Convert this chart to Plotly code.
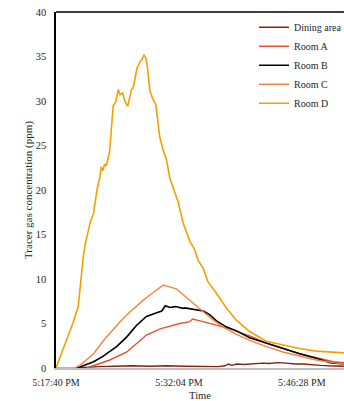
import plotly.graph_objects as go

# Time in minutes after 5:17:40 PM
tick_minutes = [0, 14.4, 28.8]
tick_labels = ["5:17:40 PM", "5:32:04 PM", "5:46:28 PM"]

dining_t = [2.2, 3.5, 5, 7, 9, 11, 13, 15, 17, 19, 19.8, 20.2, 20.6, 21.2, 22, 23, 24.2, 25, 26, 27, 28, 29, 30, 31, 32, 33.8]
dining_v = [0, 0.1, 0.15, 0.2, 0.25, 0.2, 0.25, 0.2, 0.2, 0.15, 0.25, 0.45, 0.3, 0.45, 0.4, 0.5, 0.55, 0.5, 0.6, 0.55, 0.45, 0.45, 0.35, 0.3, 0.25, 0.2]

roomA_t = [3.6, 5.15, 6.3, 8.3, 9.45, 10.6, 12.2, 13.35, 14.5, 15.7, 16.0, 16.9, 18.05, 19.2, 20.4, 21.5, 22.7, 24.65, 26.6, 28.55, 30.5, 32.5, 33.8]
roomA_v = [0, 0.5, 0.9, 1.8, 2.8, 3.7, 4.4, 4.7, 5.0, 5.2, 5.5, 5.3, 5.0, 4.7, 4.4, 4.0, 3.6, 2.8, 2.2, 1.6, 1.15, 0.7, 0.6]

roomB_t = [2.4, 2.8, 4.4, 5.5, 7.1, 8.3, 9.45, 10.6, 11.8, 12.4, 12.8, 13.35, 14.0, 14.9, 15.1, 16.1, 17.25, 18.0, 18.8, 20.0, 21.1, 22.7, 24.65, 26.6, 28.55, 30.5, 32.1, 33.8]
roomB_v = [0, 0.1, 0.7, 1.3, 2.4, 3.5, 4.8, 5.8, 6.2, 6.4, 7.0, 6.8, 6.9, 6.7, 6.75, 6.6, 6.4, 6.0, 5.3, 4.6, 4.2, 3.4, 2.8, 2.2, 1.6, 1.1, 0.6, 0.45]

roomC_t = [0, 2.2, 2.8, 4.4, 5.5, 6.5, 7.5, 8.65, 9.2, 10.2, 11.0, 11.8, 12.55, 13.0, 13.4, 14.1, 14.7, 15.7, 16.65, 17.6, 18.4, 19.6, 21.1, 22.7, 24.65, 26.6, 28.55, 30.5, 32.5, 33.8]
roomC_v = [0, 0, 0.3, 1.6, 3.0, 4.1, 5.2, 6.3, 6.8, 7.6, 8.2, 8.8, 9.3, 9.2, 9.1, 8.9, 8.4, 7.6, 6.8, 6.1, 5.4, 4.6, 3.8, 3.1, 2.4, 1.8, 1.35, 0.9, 0.6, 0.45]

roomD_t = [0, 2.0, 2.6, 3.0, 3.2, 3.4, 4.0, 4.4, 4.8, 5.15, 5.3, 5.5, 5.7, 5.85, 6.1, 6.3, 6.55, 6.7, 7.0, 7.3, 7.5, 7.8, 8.05, 8.4, 8.85, 9.05, 9.25, 9.5, 9.7, 9.9, 10.05, 10.3, 10.5, 10.7, 11.0, 11.35, 11.7, 12.15, 12.55, 12.95, 13.35, 13.9, 14.3, 14.9, 15.3, 15.7, 16.25, 16.65, 17.25, 17.8, 18.8, 20.0, 21.1, 22.7, 24.65, 26.6, 28.55, 30.5, 33.6, 33.8]
roomD_v = [0, 5.1, 6.9, 11.0, 12.5, 13.8, 16.3, 17.4, 20.0, 21.5, 22.6, 22.2, 22.9, 22.7, 23.5, 24.5, 27.9, 29.5, 29.9, 31.3, 30.7, 30.9, 30.0, 29.4, 31.3, 31.5, 32.5, 33.7, 34.1, 34.5, 34.6, 35.2, 34.9, 33.9, 31.2, 30.2, 29.6, 26.0, 24.5, 23.4, 21.3, 19.8, 18.7, 16.3, 15.3, 14.2, 13.3, 12.1, 11.2, 9.7, 8.4, 6.7, 5.4, 4.1, 3.0, 2.6, 2.2, 1.9, 1.7, 1.7]

series = [
    ("Dining area", dining_t, dining_v, "#7B2410", 1.4),
    ("Room A", roomA_t, roomA_v, "#E8502E", 1.4),
    ("Room B", roomB_t, roomB_v, "#000000", 1.6),
    ("Room C", roomC_t, roomC_v, "#F7843C", 1.4),
    ("Room D", roomD_t, roomD_v, "#F5A000", 1.6),
]

fig = go.Figure()
for name, t, v, color, w in series:
    fig.add_trace(go.Scatter(x=t, y=v, mode="lines", name=name,
                             line=dict(color=color, width=w)))

SERIF = "Liberation Serif"
TXT = "#262626"

fig.update_layout(
    width=344, height=401,
    margin=dict(l=56, r=0, t=12, b=33, autoexpand=False),
    paper_bgcolor="white", plot_bgcolor="white",
    font=dict(family=SERIF, size=10, color=TXT),
    showlegend=True,
    legend=dict(x=0.6875, y=0.998, xanchor="left", yanchor="top",
                font=dict(family=SERIF, size=10, color=TXT),
                bgcolor="rgba(0,0,0,0)", itemwidth=30, tracegroupgap=0),
    xaxis=dict(range=[0, 33.75], tickmode="array", tickvals=tick_minutes, ticktext=tick_labels,
               tickfont=dict(family=SERIF, size=10, color=TXT), ticklabelstandoff=4,
               showgrid=False, zeroline=False, showline=True, linecolor="#BFBFBF", linewidth=2,
               ticks="",
               title=dict(text="Time", standoff=5, font=dict(family=SERIF, size=10.5, color=TXT))),
    yaxis=dict(range=[0, 40], dtick=5, showgrid=False, zeroline=False, showline=True,
               tickfont=dict(family=SERIF, size=10.5, color=TXT), ticklabelstandoff=6,
               linecolor="black", linewidth=1.5, ticks="",
               title=dict(text="Tracer gas concentration (ppm)", standoff=1,
                          font=dict(family=SERIF, size=11, color=TXT))),
)
# Top frame line of the plot box
fig.add_shape(type="line", xref="paper", yref="paper", x0=0, x1=1, y0=1, y1=1,
              line=dict(color="black", width=1.5))

fig.write_html("out.html", config={"displayModeBar": False},
               post_script="document.body.style.margin='0';")
